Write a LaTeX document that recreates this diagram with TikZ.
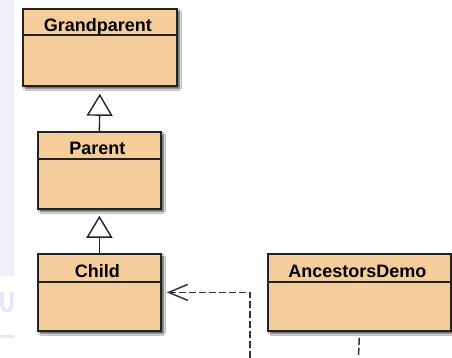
\documentclass[tikz,border=0pt]{standalone}
\usepackage{fontspec}
\setmainfont{Liberation Sans}
\usetikzlibrary{arrows.meta,shadows.blur}

\definecolor{classfill}{HTML}{F5CD9B}
\definecolor{classline}{HTML}{222222}
\definecolor{depline}{HTML}{333333}
\definecolor{strip}{HTML}{F0F0FC}
\definecolor{stripmark}{HTML}{E6E6F6}

\tikzset{
  classbody/.style={draw=classline, fill=classfill, line width=1.8pt,
    inner sep=0pt, anchor=north west,
    blur shadow={shadow xshift=2.5pt, shadow yshift=-2.5pt,
      shadow blur radius=2pt, shadow blur steps=5, shadow opacity=75}},
  classsep/.style={draw=classline, line width=1.3pt},
  classname/.style={font=\bfseries\fontsize{18}{18}\selectfont, anchor=base,
    inner sep=0pt, text=black},
  gen/.style={draw=classline, line width=1.4pt,
    -{Triangle[open, length=22pt, width=26pt, fill=white]}},
  dep/.style={draw=depline, line width=1.5pt, dash pattern=on 7pt off 3pt,
    -{Straight Barb[length=19pt, width=16pt]}},
  depplain/.style={draw=depline, line width=1.5pt, dash pattern=on 7pt off 3pt},
}

% \classbox{name}{left}{top}{right}{bottom}{header height}{title}
\newcommand\classbox[7]{%
  \node[classbody, minimum width=#4pt-#2pt, minimum height=#5pt-#3pt]
    (#1) at (#2pt,-#3pt) {};
  \draw[classsep] ([yshift=-#6pt]#1.north west) -- ([yshift=-#6pt]#1.north east);
  \node[classname] (#1-title) at ([xshift=-2pt, yshift=-24pt]#1.north) {#7};
}

\begin{document}
\begin{tikzpicture}[x=1pt, y=1pt]
  \useasboundingbox (0,0) rectangle (452,-358);
  \fill[white] (0,0) rectangle (452,-358);

  % page margin strip and its faint mark
  \fill[strip] (0,0) rectangle (14,-276);
  \draw[stripmark, line width=3.5pt] (2,-292) -- (2,-306)
    arc[start angle=180, end angle=360, radius=4.75] -- (11.5,-292);
  \fill[stripmark] (0,-335) rectangle (14,-338);

  % classes
  \classbox{grandparent}{22}{8}{176}{85}{27}{Grandparent}
  \classbox{parent}{37}{131}{160}{208}{28}{Parent}
  \classbox{child}{37}{253}{160}{330}{29}{Child}
  \classbox{demo}{267}{253}{450}{330}{29}{AncestorsDemo}

  % inheritance
  \draw[gen, shorten >=7pt] (parent.north) -- (grandparent.south);
  \draw[gen, shorten >=6pt] (child.north) -- (parent.south);

  % dependencies leaving the lower edge
  \coordinate (lowA) at (250,-358);
  \coordinate (lowB) at (358.5,-358);
  \draw[dep, shorten >=5pt] (lowA) |- (child.east);
  \draw[depplain, shorten <=6pt] (demo.south) -- (lowB);
\end{tikzpicture}
\end{document}
